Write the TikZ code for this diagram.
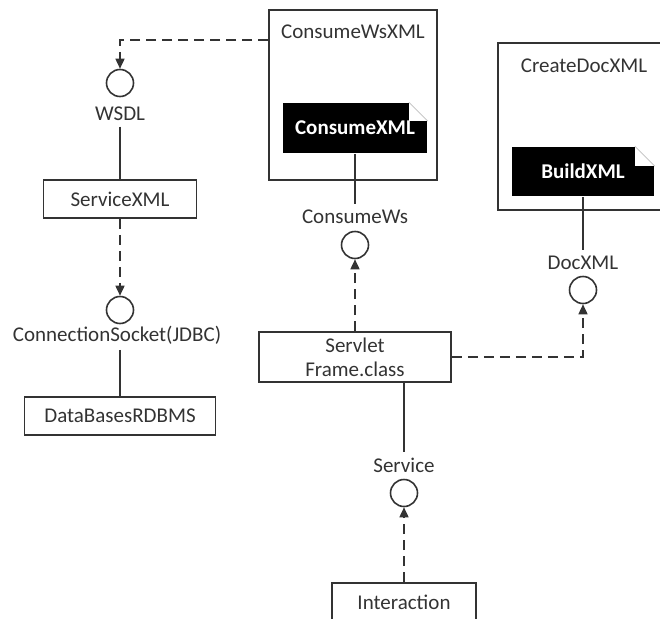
\documentclass[tikz,border=0pt]{standalone}
\usepackage{fontspec}
\setmainfont{Carlito}
\usetikzlibrary{arrows.meta, positioning}

\begin{document}
\begin{tikzpicture}[x=1pt, y=-1pt, >={Triangle[width=9pt,length=10pt]},
  line width=1.6pt, color=black!80,
  every node/.style={font=\fontsize{21}{24}\selectfont},
  tag/.style={inner sep=5pt},
  box/.style={draw, rectangle, minimum height=38pt, inner sep=0pt},
  frame/.style={draw, rectangle, inner sep=0pt},
  note/.style={fill=black, text=white, font=\fontsize{21}{24}\selectfont\bfseries,
    minimum width=144pt, minimum height=50pt, inner sep=0pt},
  fold/.style={black!25, line width=0.8pt},
  port/.style={circle, draw, minimum size=27pt, inner sep=0pt},
  dep/.style={->, dash pattern=on 10pt off 6pt}]
  \useasboundingbox (0,0) rectangle (660,618);
  \clip (0,0) rectangle (660,618);

  \node[frame, minimum width=168pt, minimum height=170pt,
    label={[anchor=center, yshift=-23pt]north:ConsumeWsXML}] (consumeWsXML) at (353,95) {};
  \node[frame, minimum width=172pt, minimum height=167pt,
    label={[anchor=center, yshift=-24pt]north:CreateDocXML}] (createDocXML) at (584,126.5) {};
  \node[note] (consumeXML) at (355,128) {ConsumeXML};
  \node[note, minimum width=142pt, minimum height=49pt] (buildXML) at (583,171.5) {BuildXML};
  \fill[white] ([xshift=-19pt]consumeXML.north east) rectangle ([yshift=-19pt]consumeXML.north east);
  \draw[fold] ([xshift=-19pt]consumeXML.north east) -- ([yshift=-19pt]consumeXML.north east);
  \fill[white] ([xshift=-20pt]buildXML.north east) rectangle ([yshift=-20pt]buildXML.north east);
  \draw[fold] ([xshift=-20pt]buildXML.north east) -- ([yshift=-20pt]buildXML.north east);

  \node[port] (wsdl) at (120,83) {};
  \node[tag] (wsdlLbl) at (120,114) {WSDL};
  \node[box, minimum width=153pt] (serviceXML) at (120,199) {ServiceXML};
  \node[port] (socket) at (120,310) {};
  \node[tag] (socketLbl) at (117,335) {ConnectionSocket(JDBC)};
  \node[box, minimum width=191pt] (dataBases) at (120,416) {DataBasesRDBMS};

  \node[tag] (consumeWsLbl) at (355,217) {ConsumeWs};
  \node[port] (consumeWs) at (355,245) {};
  \node[box, minimum width=192pt, minimum height=50pt, align=center] (servlet) at (355,357) {Servlet\\Frame.class};
  \node[tag] (serviceLbl) at (404,465) {Service};
  \node[port] (service) at (404,493) {};
  \node[box, minimum width=144pt] (interaction) at (404,602) {Interaction};

  \node[tag] (docXMLLbl) at (583,263) {DocXML};
  \node[port] (docXML) at (583,290) {};

  \draw[dep] ([yshift=-31pt]consumeWsXML.north west) -| (wsdl);
  \draw (wsdlLbl) -- (serviceXML);
  \draw[dep] (serviceXML) -- (socket);
  \draw (socketLbl.south -| dataBases) -- (dataBases);
  \draw (consumeXML) -- (consumeWsLbl);
  \draw[dep] (servlet) -- (consumeWs);
  \draw[dep] (servlet) -| (docXML);
  \draw (buildXML) -- (docXMLLbl);
  \draw (servlet.south -| service) -- (serviceLbl);
  \draw[dep] (interaction) -- (service);
\end{tikzpicture}
\end{document}
